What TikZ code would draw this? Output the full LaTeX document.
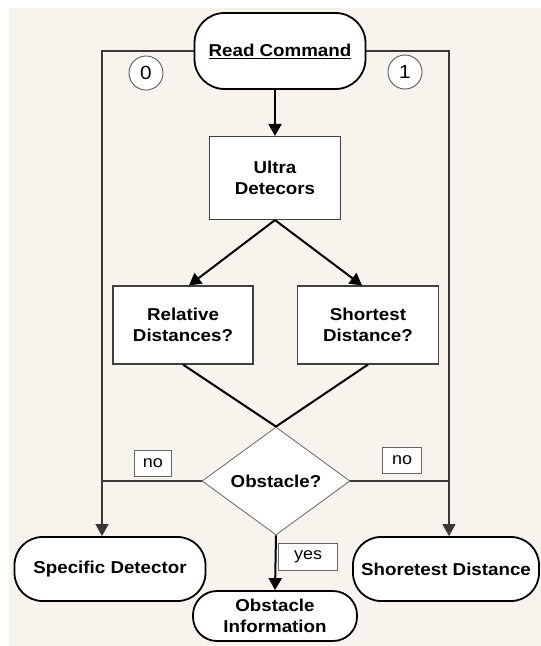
\documentclass[tikz,border=0pt]{standalone}
\usepackage{fontspec}
\setmainfont{Liberation Sans}[FakeStretch=1.09]
\usepackage{tikz}
\usetikzlibrary{arrows.meta,positioning,shapes.geometric}
\definecolor{paper}{HTML}{F7F4EE}
\definecolor{wire}{HTML}{383838}

\begin{document}
\begin{tikzpicture}[x=1pt, y=-1pt,
      term/.style={draw, line width=1.8pt, fill=white, align=center, inner sep=0pt, font=\bfseries\fontsize{17.2}{21}\selectfont},
      box/.style={draw=black!75, line width=1.1pt, fill=white, align=center, inner sep=0pt, font=\bfseries\fontsize{17.2}{21}\selectfont},
      tag/.style={draw=black!60, line width=0.9pt, fill=white, inner sep=0pt, font=\fontsize{16.5}{18}\selectfont},
      num/.style={draw=black!65, circle, line width=0.9pt, fill=white, minimum size=34pt, inner sep=0pt, font=\fontsize{19}{20}\selectfont},
      thin/.style={draw=wire, line width=1.2pt},
      thick/.style={draw=black, line width=2pt},
      >={Triangle[length=12pt,width=13pt]}
    ]
    \useasboundingbox (0,0) rectangle (541,646);
    \fill[paper] (9,8) rectangle (541,646);

    \node[term, rounded corners=30pt, minimum width=171pt, minimum height=76pt] (read) at (280,51) {\underline{Read Command}};
    \node[box, minimum width=131pt, minimum height=83pt] (ultra) at (275,178) {Ultra\\Detecors};
    \node[box, minimum width=140pt, minimum height=78pt] (rel) at (183,325) {Relative\\Distances?};
    \node[box, minimum width=141pt, minimum height=78pt] (sht) at (368,325) {Shortest\\Distance?};
    \node[diamond, draw=black!55, line width=0.9pt, fill=white, minimum width=148pt, minimum height=108pt, inner sep=0pt, font=\bfseries\fontsize{17.2}{21}\selectfont] (obst) at (276,481) {Obstacle?};
    \node[term, rounded corners=28pt, minimum width=191pt, minimum height=64pt] (spec) at (110,569) {Specific Detector};
    \node[term, rounded corners=28pt, minimum width=186pt, minimum height=64pt] (short) at (446,569) {Shoretest Distance};
    \node[term, rounded corners=24pt, minimum width=164pt, minimum height=50pt] (info) at (275,616) {Obstacle\\Information};

    \coordinate (jl) at (102,481);
    \coordinate (jr) at (449,481);

    \draw[thin, ->] (read.west) -| (spec.north -| jl);
    \draw[thin, ->] (read.east) -| (short.north -| jr);
    \draw[thin] (obst.west) -- (jl);
    \draw[thin] (obst.east) -- (jr);

    \node[num] (zero) at (146,73) {0};
    \node[num] (one) at (405,72) {1};

    \draw[thick, ->] (read.south -| ultra.north) -- (ultra.north);
    \draw[thick, ->] (ultra.south) -- ([xshift=6pt]rel.north);
    \draw[thick, ->] (ultra.south) -- ([xshift=-6pt]sht.north);
    \draw[thick] (rel.south) -- (obst.north);
    \draw[thick] (sht.south) -- (obst.north);
    \draw[thick, ->] (obst.south) -- (info.north);

    \node[tag, minimum width=37pt, minimum height=26pt] (nol) at (153,463) {no};
    \node[tag, minimum width=39pt, minimum height=26pt] (nor) at (402,460) {no};
    \node[tag, minimum width=59pt, minimum height=27pt] (yes) at (308,557) {yes};
  \end{tikzpicture}
\end{document}
